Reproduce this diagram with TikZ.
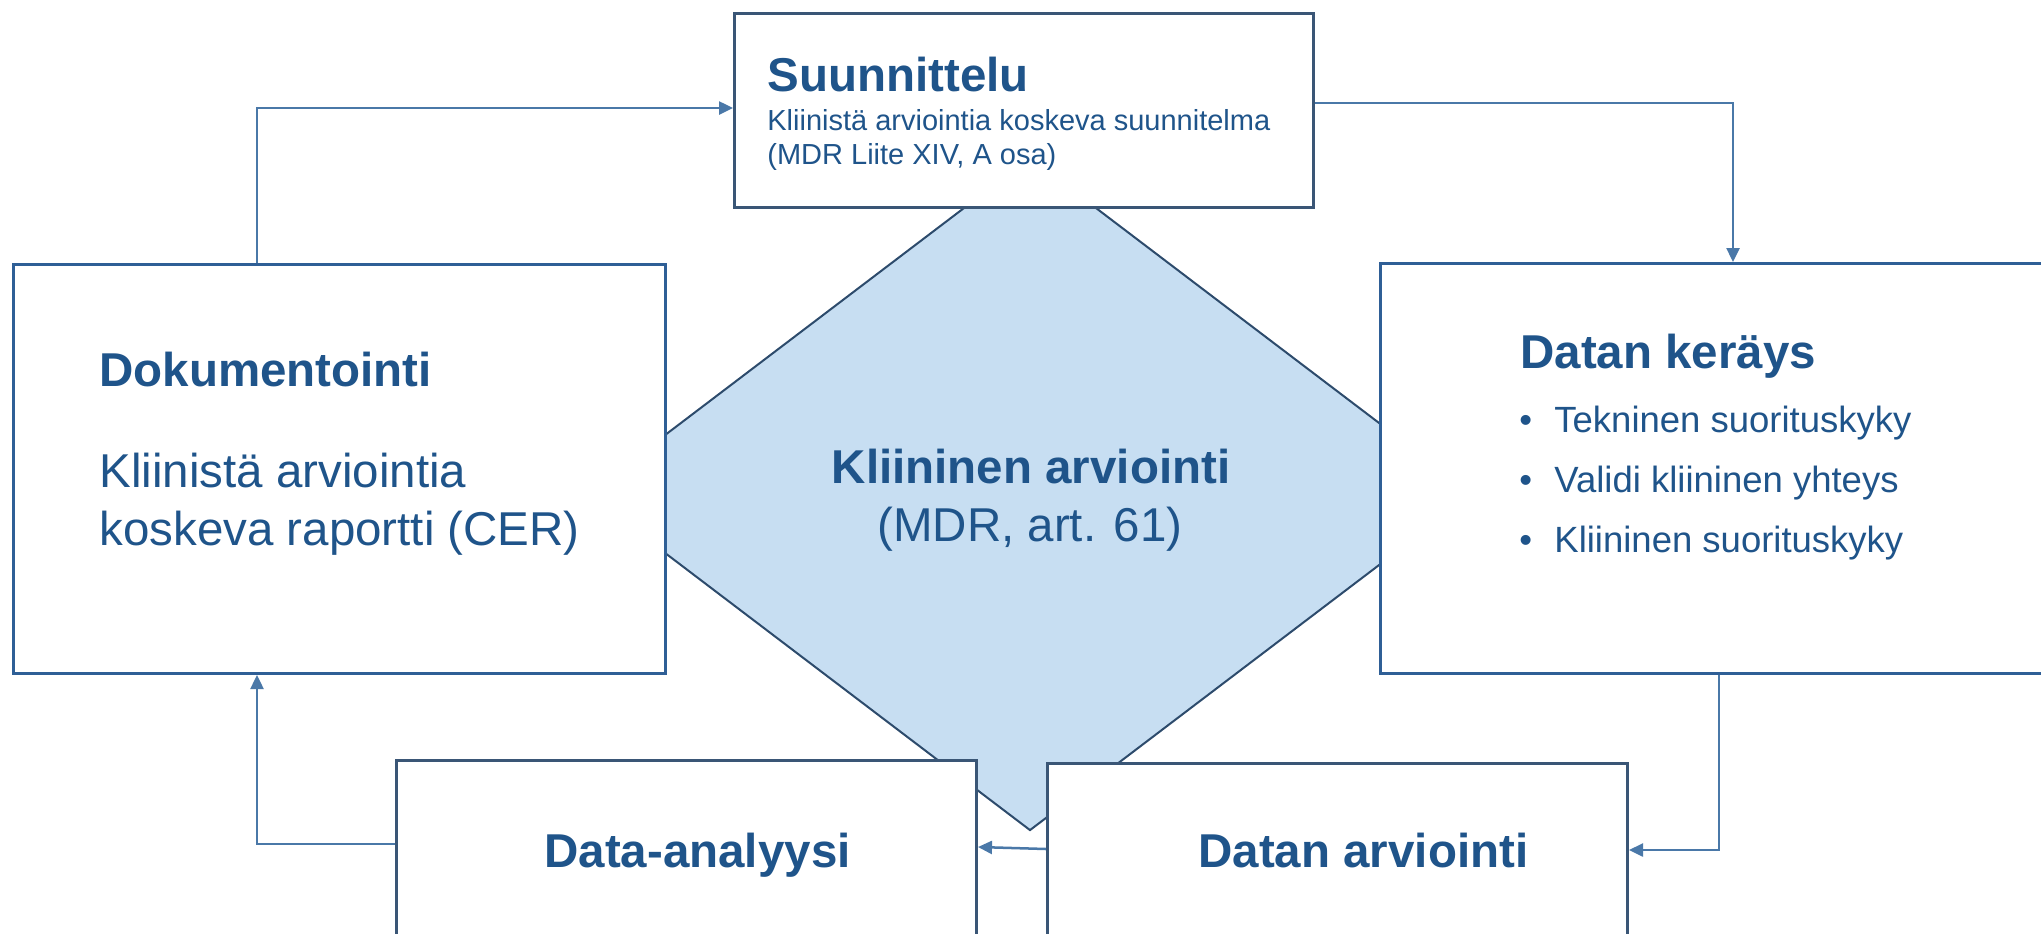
\documentclass[tikz,border=0pt]{standalone}
\usepackage{fontspec}
\setmainfont{Liberation Sans}
\usetikzlibrary{shapes.geometric,arrows.meta}
\definecolor{txt}{RGB}{31,84,138}
\definecolor{bordA}{RGB}{47,95,150}
\definecolor{bordB}{RGB}{58,86,118}
\definecolor{diamfill}{RGB}{199,222,242}
\definecolor{diamline}{RGB}{45,75,108}
\definecolor{conn}{RGB}{74,120,168}
\newcommand\ftitle{\fontsize{23.75pt}{28pt}\selectfont\bfseries}
\newcommand\fbody{\fontsize{23.75pt}{28pt}\selectfont}
\newcommand\fsub{\fontsize{14.5pt}{17pt}\selectfont}
\newcommand\fbul{\fontsize{18.25pt}{22pt}\selectfont}
\begin{document}
\begin{tikzpicture}[x=0.5pt,y=-0.5pt,
  boxA/.style={draw=bordA,fill=white,line width=1.5pt,inner sep=0,anchor=north west},
  boxB/.style={draw=bordB,fill=white,line width=1.5pt,inner sep=0,anchor=north west},
  diam/.style={diamond,draw=diamline,fill=diamfill,line width=1pt,inner sep=0,
    minimum width=443pt,minimum height=336.5pt},
  arr/.style={draw=conn,line width=1.25pt,-{Triangle[length=7pt,width=6.5pt]}},
  tx/.style={inner sep=0,anchor=base west,text=txt},
  txc/.style={inner sep=0,anchor=base,text=txt}]
\useasboundingbox (0,0) rectangle (2041,933);
\clip (0,0) rectangle (2041,933);
% central diamond
\node[diam] (klin) at (1030,494) {};
% boxes
\node[boxB,minimum width=289.5pt,minimum height=97pt] (suun) at (733,12) {};
\node[boxA,minimum width=326pt,minimum height=204.5pt] (doku) at (12,263) {};
\node[boxA,minimum width=345.5pt,minimum height=205pt] (keray) at (1379,262) {};
\node[boxB,minimum width=290pt,minimum height=100.5pt] (anal) at (395,759) {};
\node[boxB,minimum width=290pt,minimum height=99pt] (arvi) at (1046,762) {};
% connectors
\coordinate (k1) at (257,108);
\coordinate (k2) at (1733,103);
\coordinate (k3) at (1719,850);
\coordinate (k4a) at (1046,849);
\coordinate (k4b) at (975,847);
\coordinate (k5) at (257,844);
\draw[arr] (doku.north -| k1) |- (suun.west |- k1);
\draw[arr] (suun.east |- k2) -| (keray.north -| k2);
\draw[arr] (keray.south -| k3) |- (arvi.east |- k3);
\draw[arr] (arvi.west |- k4a) -- (anal.east |- k4b);
\draw[arr] (anal.west |- k5) -| (doku.south -| k5);
% texts
\node[tx,font=\ftitle] (suunT) at (767,91) {Suunnittelu};
\node[tx,font=\fsub] (suunL1) at (767,130) {Kliinistä arviointia koskeva suunnitelma};
\node[tx,font=\fsub] (suunL2) at (767,164) {(MDR Liite XIV, A osa)};
\node[tx,font=\ftitle] (dokuT) at (99,386) {Dokumentointi};
\node[tx,font=\fbody] (dokuL1) at (99,487) {Kliinistä arviointia};
\node[tx,font=\fbody] (dokuL2) at (99,545) {koskeva raportti (CER)};
\node[tx,font=\ftitle] (kerayT) at (1520,368) {Datan keräys};
\node[tx,font=\fbul] (b1) at (1519,432) {•};
\node[tx,font=\fbul] (kerayL1) at (1554,432) {Tekninen suorituskyky};
\node[tx,font=\fbul] (b2) at (1519,492) {•};
\node[tx,font=\fbul] (kerayL2) at (1554,492) {Validi kliininen yhteys};
\node[tx,font=\fbul] (b3) at (1519,552) {•};
\node[tx,font=\fbul] (kerayL3) at (1554,552) {Kliininen suorituskyky};
\node[txc,font=\ftitle] (klinT) at (1031,483) {Kliininen arviointi};
\node[txc,font=\fbody] (klinL) at (1030,541) {(MDR, art. 61)};
\node[tx,font=\ftitle] (analT) at (544,867) {Data-analyysi};
\node[tx,font=\ftitle] (arviT) at (1198,867) {Datan arviointi};
\end{tikzpicture}
\end{document}
